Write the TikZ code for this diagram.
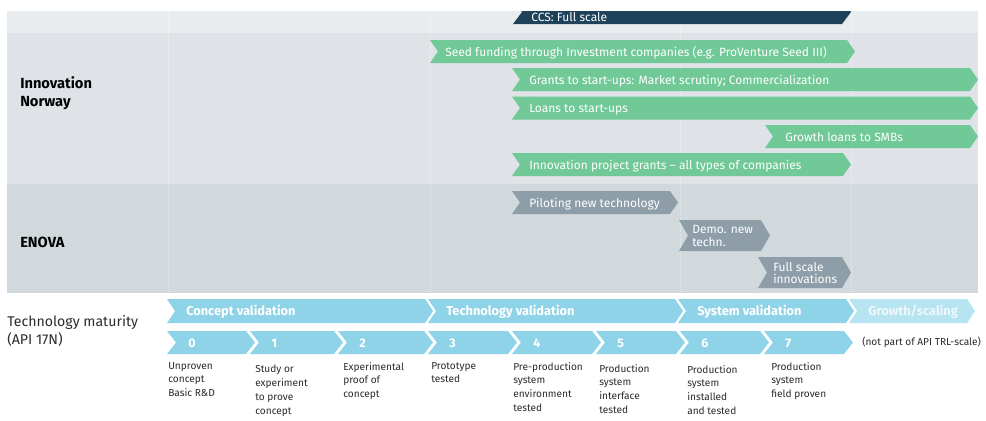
\documentclass[tikz,border=0pt]{standalone}
\usepackage{fontspec}
\setmainfont{Fira Sans}
\usepackage{tikz}
\usetikzlibrary{positioning}
\definecolor{TopStrip}{HTML}{E9ECEF}
\definecolor{NorwayBand}{HTML}{DFE3E7}
\definecolor{EnovaBand}{HTML}{D2D9DD}
\definecolor{GrantGreen}{HTML}{70C996}
\definecolor{EnovaGrey}{HTML}{8E9EA8}
\definecolor{CcsNavy}{HTML}{1E4259}
\definecolor{TrlBlue}{HTML}{8ED3E7}
\definecolor{TrlPale}{HTML}{B7E4F1}
\definecolor{TextGrey}{HTML}{2B2B2B}
% chevron: left, tip, top, bottom, depth, colour
\newcommand{\chevronbar}[6]{%
  \fill[#6] (#1,#3) -- ({#2-#5},#3) -- (#2,{(#3+#4)/2}) -- ({#2-#5},#4)
    -- (#1,#4) -- ({#1+#5},{(#3+#4)/2}) -- cycle;}

\begin{document}
\begin{tikzpicture}[x=0.75pt, y=-0.75pt,
  every node/.style={inner sep=0pt},
  bartext/.style={anchor=west, yshift=-1pt, text=white, font=\fontsize{9}{11}\selectfont, text height=0.72em, text depth=0.22em},
  boxtext/.style={anchor=west, yshift=-0.5pt, text=white, align=left, font=\fontsize{9}{9.6}\selectfont},
  phasetext/.style={anchor=west, yshift=-1pt, text=white, font=\bfseries\fontsize{9.6}{11}\selectfont, text height=0.72em, text depth=0.22em},
  leveltext/.style={anchor=west, yshift=-1pt, text=white, font=\bfseries\fontsize{9.3}{11}\selectfont, text height=0.72em, text depth=0.22em},
  desctext/.style={anchor=north west, align=left, text=TextGrey, font=\fontsize{7.6}{10.3}\selectfont},
  agency/.style={anchor=west, align=left, text=black, font=\bfseries\fontsize{11}{13.5}\selectfont}]
\useasboundingbox (0,0) rectangle (986,421);

% bands
\fill[TopStrip] (7,11) rectangle (978,33);
\fill[NorwayBand] (7,33) rectangle (978,184);
\fill[EnovaBand] (7,184) rectangle (978,293);
\foreach \xline in {168,430,680,851}
  \draw[white, opacity=0.5, densely dotted, line width=0.5pt] (\xline,11) -- (\xline,293);

% CCS bar, cut by the top edge
\begin{scope}
\clip (0,11) rectangle (986,421);
\chevronbar{513}{851}{0}{24}{9}{CcsNavy}
\node[bartext] (ccs) at (531,17) {CCS: Full scale};
\end{scope}

% Innovation Norway
\node[agency] (norway) at (20,93) {Innovation\\Norway};
\chevronbar{430}{855}{40}{63}{8}{GrantGreen}
\node[bartext] (seed) at (445,51.5) {Seed funding through Investment companies (e.g. ProVenture Seed III)};
\chevronbar{512}{978}{68}{91}{8}{GrantGreen}
\node[bartext] (grants) at (529,79.5) {Grants to start-ups: Market scrutiny; Commercialization};
\chevronbar{512}{978}{96.5}{119.5}{8}{GrantGreen}
\node[bartext] (loans) at (529,108) {Loans to start-ups};
\chevronbar{765}{978}{125}{148}{8}{GrantGreen}
\node[bartext] (growthloans) at (785,136.5) {Growth loans to SMBs};
\chevronbar{512}{851}{153}{176}{8}{GrantGreen}
\node[bartext] (projgrants) at (529,164.5) {Innovation project grants -- all types of companies};

% ENOVA
\node[agency] (enova) at (20,242) {ENOVA};
\chevronbar{512}{678}{191}{214}{8}{EnovaGrey}
\node[bartext] (pilot) at (529,202.5) {Piloting new technology};
\chevronbar{679}{770}{220}{251}{9}{EnovaGrey}
\node[boxtext] (demo) at (692,235.5) {Demo. new\\techn.};
\chevronbar{758}{851}{257}{288}{9}{EnovaGrey}
\node[boxtext] (fullscale) at (773,272.5) {Full scale\\innovations};

% technology maturity
\node[anchor=west, align=left, text=TextGrey, font=\fontsize{10.6}{14}\selectfont] (maturity) at (7,331) {Technology maturity\\(API 17N)};
\chevronbar{167}{433}{299}{323}{8}{TrlBlue}
\node[phasetext] (concept) at (186,311) {Concept validation};
\chevronbar{428}{683}{299}{323}{8}{TrlBlue}
\node[phasetext] (techval) at (446,311) {Technology validation};
\chevronbar{678}{854}{299}{323}{8}{TrlBlue}
\node[phasetext] (sysval) at (697,311) {System validation};
\chevronbar{849}{975}{299}{323}{8}{TrlPale}
\node[phasetext, text=white!85!TrlBlue] (growth) at (868,311) {Growth/scaling};

\foreach \lvl/\xl/\xt in {0/167/255, 1/250/343, 2/338/433, 3/428/517, 4/512/601, 5/596/685, 6/680/769, 7/764/853} {
  \chevronbar{\xl}{\xt}{331}{354}{9}{TrlBlue}
  \node[leveltext] (trl\lvl) at (\xl+21,342.5) {\lvl};
}
\node[anchor=west, text=TextGrey, font=\fontsize{7.6}{10}\selectfont] (notapi) at (862,342.5) {(not part of API TRL-scale)};

% level descriptions
\node[desctext] (d0) at (168,362) {Unproven\\concept\\Basic R\&D};
\node[desctext] (d1) at (255,365) {Study or\\experiment\\to prove\\concept};
\node[desctext] (d2) at (343,362) {Experimental\\proof of\\concept};
\node[desctext] (d3) at (431,362) {Prototype\\tested};
\node[desctext] (d4) at (513,362) {Pre-production\\system\\environment\\tested};
\node[desctext] (d5) at (599,364) {Production\\system\\interface\\tested};
\node[desctext] (d6) at (687,365) {Production\\system\\installed\\and tested};
\node[desctext] (d7) at (771,362) {Production\\system\\field proven};
\end{tikzpicture}
\end{document}
